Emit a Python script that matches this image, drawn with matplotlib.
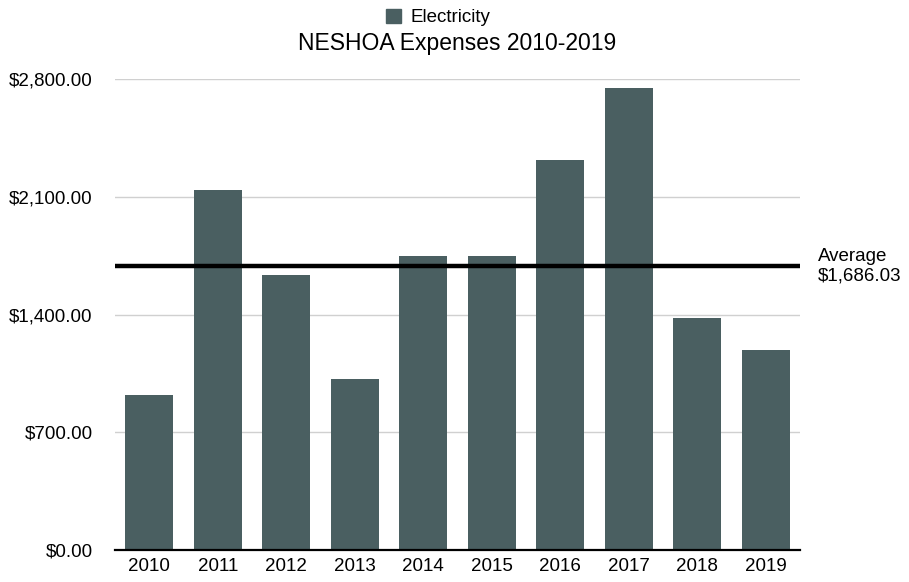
import matplotlib
matplotlib.use("Agg")
import matplotlib.pyplot as plt
from matplotlib.patches import Patch
from matplotlib.ticker import FuncFormatter

# data
years = ["2010", "2011", "2012", "2013", "2014", "2015", "2016", "2017", "2018", "2019"]
electricity = [922, 2143, 1637, 1018, 1750, 1750, 2321, 2750, 1381, 1190]
average = 1686.03
yticks = [0, 700, 1400, 2100, 2800]

plt.rcParams['font.family'] = ['Liberation Sans', 'DejaVu Sans']

bar_color = '#4a5f61'

fig = plt.figure(figsize=(9.09, 5.82), dpi=100)
ax = fig.add_axes([0.1265, 0.055, 0.7535, 0.809])

x = range(len(years))
ax.bar(x, electricity, width=0.70, color=bar_color, zorder=2)
ax.axhline(average, color='black', lw=3.2, zorder=3)

ax.set_xlim(-0.5, len(years) - 0.5)
ax.set_ylim(0, 2800)
ax.set_yticks(yticks)
ax.yaxis.set_major_formatter(FuncFormatter(lambda v, p: "${:,.2f}".format(v)))
ax.set_xticks(list(x))
ax.set_xticklabels(years)
ax.tick_params(axis='y', length=0, pad=16, labelsize=13.5)
ax.tick_params(axis='x', length=0, pad=6, labelsize=13.5)
ax.grid(axis='y', color='#d0d0d0', lw=1, zorder=0)

for s in ['top', 'right', 'left']:
    ax.spines[s].set_visible(False)
ax.spines['bottom'].set_color('black')
ax.spines['bottom'].set_linewidth(1.6)
ax.spines['bottom'].set_zorder(4)

ax.text(1.026, average / 2800, "Average\n${:,.2f}".format(average),
        transform=ax.transAxes, ha='left', va='center', fontsize=13.5,
        linespacing=1.2)

fig.text(0.503, 0.925, "NESHOA Expenses 2010-2019", ha='center', va='center',
         fontsize=16.5)

fig.legend(handles=[Patch(color=bar_color, label='Electricity')],
           loc='center', bbox_to_anchor=(0.482, 0.97), frameon=False,
           fontsize=13.5, handlelength=0.8, handleheight=0.8, handletextpad=0.55,
           borderpad=0)

fig.savefig("out.png", dpi=100)
